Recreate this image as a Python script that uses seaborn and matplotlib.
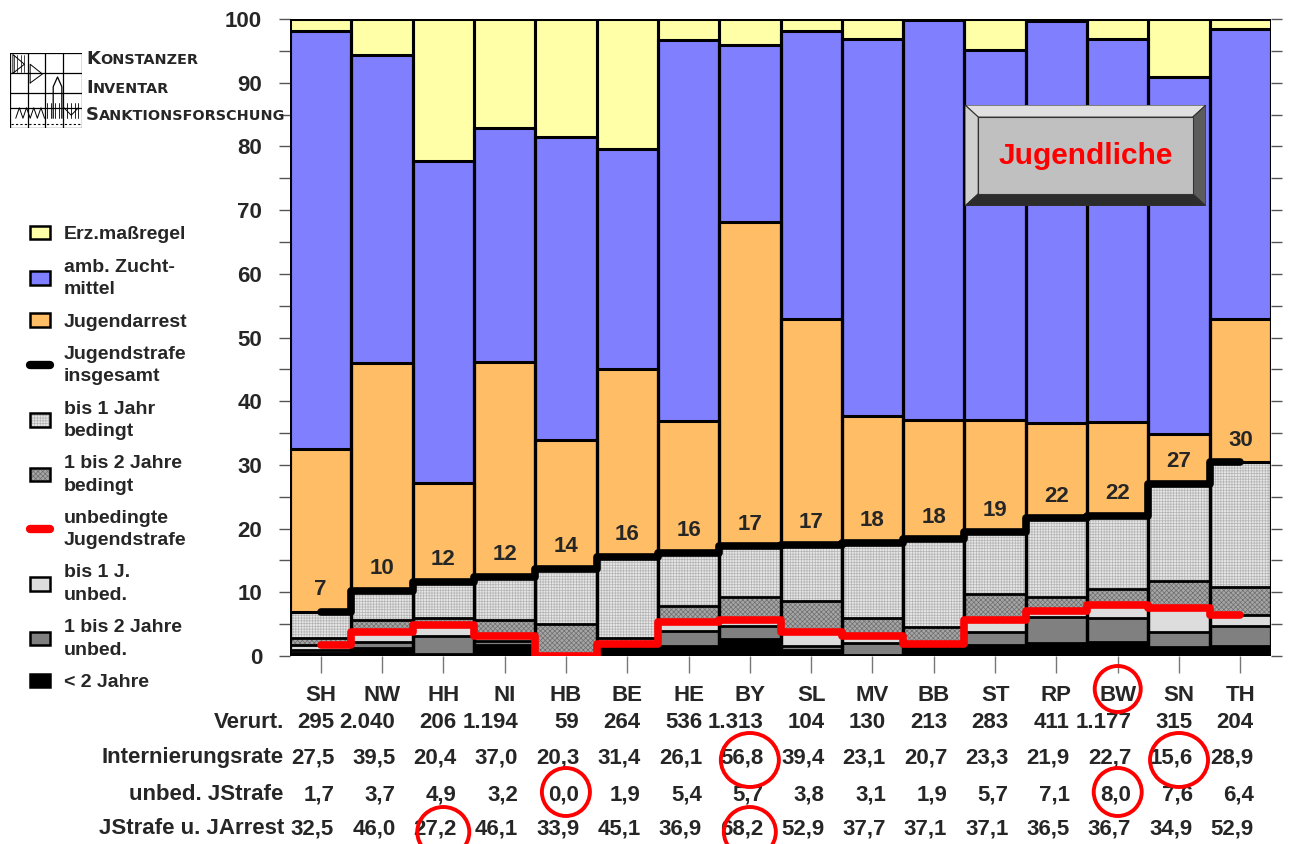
import numpy as np
import pandas as pd
import matplotlib
matplotlib.use("Agg")
import matplotlib.pyplot as plt
import matplotlib.transforms as mtransforms
from matplotlib.patches import Ellipse, Polygon, Rectangle, Patch
from matplotlib.lines import Line2D
from matplotlib.offsetbox import TextArea, HPacker, AnchoredOffsetbox
import seaborn as sns

# ---------------------------------------------------------------- data
laender = ["SH", "NW", "HH", "NI", "HB", "BE", "HE", "BY",
           "SL", "MV", "BB", "ST", "RP", "BW", "SN", "TH"]
verurteilte = ["295", "2.040", "206", "1.194", "59", "264", "536", "1.313",
               "104", "130", "213", "283", "411", "1.177", "315", "204"]
internierungsrate = [27.5, 39.5, 20.4, 37.0, 20.3, 31.4, 26.1, 56.8,
                     39.4, 23.1, 20.7, 23.3, 21.9, 22.7, 15.6, 28.9]
unbed_jstrafe = [1.7, 3.7, 4.9, 3.2, 0.0, 1.9, 5.4, 5.7,
                 3.8, 3.1, 1.9, 5.7, 7.1, 8.0, 7.6, 6.4]
jstrafe_u_jarrest = [32.5, 46.0, 27.2, 46.1, 33.9, 45.1, 36.9, 68.2,
                     52.9, 37.7, 37.1, 37.1, 36.5, 36.7, 34.9, 52.9]
jstrafe_gesamt = [6.9, 10.2, 11.6, 12.4, 13.7, 15.6, 16.2, 17.2,
                  17.4, 17.7, 18.3, 19.4, 21.6, 22.0, 27.0, 30.4]
erz_massregel = [1.9, 5.7, 22.3, 17.1, 18.5, 20.4, 3.3, 4.1,
                 1.9, 3.1, 0.1, 4.9, 0.3, 3.1, 9.1, 1.6]
# components of the Jugendstrafe
ueber_2_jahre = [0.5, 1.2, 0.3, 1.8, 0.0, 1.4, 1.6, 2.6,
                 1.0, 0.2, 1.3, 1.8, 2.0, 2.2, 1.4, 1.5]
unbed_1_bis_2 = [0.5, 1.0, 2.9, 0.6, 0.0, 0.0, 2.4, 2.1,
                 0.5, 1.9, 0.2, 2.0, 4.1, 3.8, 2.4, 3.2]
bed_1_bis_2 = [1.2, 2.0, 1.1, 2.5, 5.0, 0.9, 2.4, 3.6,
               4.8, 2.8, 2.7, 4.0, 2.1, 2.5, 4.2, 4.4]

markiert_label = ["BW"]
markiert_intern = ["BY", "SN"]
markiert_unbed = ["HB", "BW"]
markiert_jsja = ["HH", "BY"]

# ---------------------------------------------------------------- frame
df = pd.DataFrame({"land": laender})
df["top_erz"] = 100.0
df["top_amb"] = 100.0 - np.array(erz_massregel)
df["top_arrest"] = jstrafe_u_jarrest
df["top_bed_bis1"] = jstrafe_gesamt
df["top_bed_1_2"] = np.array(unbed_jstrafe) + np.array(bed_1_bis_2)
df["top_unbed_bis1"] = unbed_jstrafe
df["top_unbed_1_2"] = np.array(ueber_2_jahre) + np.array(unbed_1_bis_2)
df["top_ueber2"] = ueber_2_jahre

sns.set_style("white")
plt.rcParams["font.family"] = ["Liberation Sans", "DejaVu Sans"]
plt.rcParams["font.weight"] = "bold"
plt.rcParams["hatch.linewidth"] = 0.5

FS = 16

W, H = 1290, 844
fig = plt.figure(figsize=(W / 100, H / 100), dpi=100)
ax = fig.add_axes([290 / W, 1 - 656 / H, (1271 - 290) / W, (656 - 19) / H])

# layer: column, face colour, hatch, hatch colour, outline width
layers = [
    ("top_erz", "#FFFFA8", None, None, 2.2),
    ("top_amb", "#8080FF", None, None, 2.2),
    ("top_arrest", "#FFBE66", None, None, 2.2),
    ("top_bed_bis1", "#E6E6E6", "++++++", "#B4B4B4", 2.2),
    ("top_bed_1_2", "#A6A6A6", "xxxxxxx", "#6E6E6E", 2.0),
    ("top_unbed_bis1", "#DDDDDD", None, None, 2.0),
    ("top_unbed_1_2", "#808080", None, None, 2.0),
    ("top_ueber2", "#000000", None, None, 2.0),
]

# filled, stacked columns (cumulative tops drawn from the top layer down)
for col, face, hatch, hcol, _ in layers:
    n0 = len(ax.patches)
    sns.barplot(data=df, x="land", y=col, order=laender, color=face,
                saturation=1, width=1.0, errorbar=None, ax=ax)
    for p in ax.patches[n0:]:
        p.set_facecolor(face)
        p.set_linewidth(0)
        if hatch:
            p.set_edgecolor(hcol)
            p.set_hatch(hatch)
        else:
            p.set_edgecolor("none")

# black outlines of every segment
for col, face, hatch, hcol, lw in layers:
    n0 = len(ax.patches)
    sns.barplot(data=df, x="land", y=col, order=laender, color="black",
                fill=False, saturation=1, width=1.0, errorbar=None, ax=ax)
    for p in ax.patches[n0:]:
        p.set_facecolor("none")
        p.set_edgecolor("black")
        p.set_linewidth(lw)
        p.set_zorder(2)

xs = np.arange(len(laender))
sns.lineplot(x=xs, y=unbed_jstrafe, drawstyle="steps-mid", color="#FF0000",
             linewidth=5.5, solid_capstyle="round", solid_joinstyle="round",
             sort=False, estimator=None, legend=False, ax=ax, zorder=5)
sns.lineplot(x=xs, y=jstrafe_gesamt, drawstyle="steps-mid", color="black",
             linewidth=5.5, solid_capstyle="round", solid_joinstyle="round",
             sort=False, estimator=None, legend=False, ax=ax, zorder=6)

for i, v in enumerate(jstrafe_gesamt):
    ax.text(i, v + 3.5, f"{v:.0f}", ha="center", va="center",
            fontsize=FS, fontweight="bold", zorder=7)

# ---------------------------------------------------------------- axes
ax.set_xlim(-0.5, len(laender) - 0.5)
ax.set_ylim(0, 100)
ax.set_xlabel("")
ax.set_ylabel("")
for s in ax.spines.values():
    s.set_visible(False)
ax.set_yticks(np.arange(0, 101, 10))
ax.set_yticks(np.arange(5, 100, 10), minor=True)
ax.tick_params(axis="y", which="both", direction="out", length=8, width=1,
               color="#555555", left=True, right=True, labelsize=FS, pad=12)
ax.set_xticks(xs)
ax.set_xticklabels(laender)
ax.tick_params(axis="x", direction="out", length=12, width=1,
               color="#777777", bottom=True, labelsize=FS, pad=9)
for lab in ax.get_yticklabels() + ax.get_xticklabels():
    lab.set_fontweight("bold")

# ---------------------------------------------------------------- table
tr = mtransforms.blended_transform_factory(ax.transData, fig.transFigure)
rows = [
    ("Verurt.", verurteilte, 723),
    ("Internierungsrate", [f"{v:.1f}".replace(".", ",") for v in internierungsrate], 758),
    ("unbed. JStrafe", [f"{v:.1f}".replace(".", ",") for v in unbed_jstrafe], 795),
    ("JStrafe u. JArrest", [f"{v:.1f}".replace(".", ",") for v in jstrafe_u_jarrest], 829),
]
for name, vals, ypx in rows:
    y = 1 - ypx / H
    ax.text(-0.6, y, name, transform=tr, ha="right", va="center",
            fontsize=FS, fontweight="bold", clip_on=False)
    for i, s in enumerate(vals):
        ax.text(i + 0.22, y, s, transform=tr, ha="right", va="center",
                fontsize=FS, fontweight="bold", clip_on=False)


def kreis(land, ypx, wpx, hpx):
    i = laender.index(land)
    e = Ellipse((i, 1 - ypx / H), wpx / 61.3, hpx / H, transform=tr,
                facecolor="none", edgecolor="#FF0000", linewidth=2.8,
                clip_on=False, zorder=10)
    ax.add_artist(e)


for l in markiert_label:
    kreis(l, 689, 46, 46)
for l in markiert_intern:
    kreis(l, 760, 58, 54)
for l in markiert_unbed:
    kreis(l, 792, 48, 48)
for l in markiert_jsja:
    kreis(l, 832, 52, 50)

# ---------------------------------------------------------------- legend
lw_box = 1.8
handles = [
    Patch(facecolor="#FFFFA8", edgecolor="black", linewidth=lw_box),
    Patch(facecolor="#8080FF", edgecolor="black", linewidth=lw_box),
    Patch(facecolor="#FFBE66", edgecolor="black", linewidth=lw_box),
    Line2D([0], [0], color="black", linewidth=6, solid_capstyle="round"),
    (Patch(facecolor="#E6E6E6", edgecolor="#B4B4B4", hatch="++++++", linewidth=0),
     Patch(facecolor="none", edgecolor="black", linewidth=lw_box)),
    (Patch(facecolor="#A6A6A6", edgecolor="#6E6E6E", hatch="xxxxxxx", linewidth=0),
     Patch(facecolor="none", edgecolor="black", linewidth=lw_box)),
    Line2D([0], [0], color="#FF0000", linewidth=6, solid_capstyle="round"),
    Patch(facecolor="#DDDDDD", edgecolor="black", linewidth=lw_box),
    Patch(facecolor="#808080", edgecolor="black", linewidth=lw_box),
    Patch(facecolor="#000000", edgecolor="black", linewidth=lw_box),
]
labels = ["Erz.maßregel", "amb. Zucht-\nmittel", "Jugendarrest",
          "Jugendstrafe\ninsgesamt", "bis 1 Jahr\nbedingt",
          "1 bis 2 Jahre\nbedingt", "unbedingte\nJugendstrafe",
          "bis 1 J.\nunbed.", "1 bis 2 Jahre\nunbed.", "< 2 Jahre"]
leg = fig.legend(handles, labels, loc="upper left",
                 bbox_to_anchor=(22 / W, 1 - 218 / H), frameon=False,
                 prop={"size": 14, "weight": "bold"}, handlelength=1.05,
                 handleheight=0.7, handletextpad=0.7, labelspacing=0.78,
                 borderaxespad=0)
for t in leg.get_texts():
    t.set_linespacing(1.42)

# ---------------------------------------------------------------- title box
bx = fig.add_axes([965 / W, 1 - 206 / H, 241 / W, 101 / H])
bx.set_xlim(0, 1)
bx.set_ylim(0, 1)
bx.axis("off")
dx, dy = 0.055, 0.12
bx.add_patch(Polygon([(0, 1), (1, 1), (1 - dx, 1 - dy), (dx, 1 - dy)], closed=True,
                     facecolor="#E0E0E0", edgecolor="#333333", linewidth=0.8))
bx.add_patch(Polygon([(0, 0), (0, 1), (dx, 1 - dy), (dx, dy)], closed=True,
                     facecolor="#D0D0D0", edgecolor="#333333", linewidth=0.8))
bx.add_patch(Polygon([(1, 0), (1, 1), (1 - dx, 1 - dy), (1 - dx, dy)], closed=True,
                     facecolor="#5C5C5C", edgecolor="#333333", linewidth=0.8))
bx.add_patch(Polygon([(0, 0), (1, 0), (1 - dx, dy), (dx, dy)], closed=True,
                     facecolor="#2C2C2C", edgecolor="#333333", linewidth=0.8))
bx.add_patch(Rectangle((dx, dy), 1 - 2 * dx, 1 - 2 * dy, facecolor="#C0C0C0",
                       edgecolor="#333333", linewidth=0.8))
bx.text(0.5, 0.5, "Jugendliche", ha="center", va="center", color="#FF0000",
        fontsize=21.5, fontweight="bold")

# ---------------------------------------------------------------- logo
lg = fig.add_axes([10 / W, 1 - 128 / H, 72 / W, 75 / H])
lg.set_xlim(0, 1)
lg.set_ylim(0, 1)
lg.axis("off")
lk = dict(color="black", linewidth=0.9)
lg.plot([0, 1, 1, 0, 0], [0, 0, 1, 1, 0], **lk)
for xv in (0.25, 0.49, 0.74):
    lg.plot([xv, xv], [0, 1], **lk)
for yv in (0.27, 0.47, 0.73):
    lg.plot([0, 1], [yv, yv], **lk)
lg.plot([0.6, 0.6, 0.66, 0.72, 0.72], [0.13, 0.55, 0.68, 0.55, 0.13], **lk)
for xv in np.linspace(0.52, 0.95, 9):
    lg.plot([xv, xv], [0.13, 0.33], color="black", linewidth=0.6)
zx = np.linspace(0.08, 0.48, 9)
lg.plot(zx, [0.27 if k % 2 else 0.13 for k in range(9)], color="black", linewidth=0.7)
lg.plot([0.75, 0.85, 0.95], [0.27, 0.17, 0.27], color="black", linewidth=0.7)
lg.plot([0.04, 0.04, 0.2, 0.04], [0.73, 0.98, 0.85, 0.73], color="black", linewidth=0.7)
lg.plot([0.28, 0.28, 0.45, 0.28], [0.6, 0.85, 0.72, 0.6], color="black", linewidth=0.7)
for xv in np.linspace(0.05, 0.2, 4):
    lg.plot([xv, xv], [0.75, 0.98], color="black", linewidth=0.5)
lg.plot([0.02, 0.98], [0.06, 0.06], color="black", linewidth=0.8, linestyle=(0, (2, 2)))

big = {"size": 13, "family": "DejaVu Sans", "weight": "bold"}
small = {"size": 10.4, "family": "DejaVu Sans", "weight": "bold"}
for word, ypx in (("KONSTANZER", 68), ("INVENTAR", 97), ("SANKTIONSFORSCHUNG", 124)):
    box = HPacker(children=[TextArea(word[0], textprops=big),
                            TextArea(word[1:], textprops=small)],
                  align="baseline", pad=0, sep=0)
    ab = AnchoredOffsetbox(loc="lower left", child=box, pad=0, borderpad=0,
                           frameon=False, bbox_to_anchor=(86 / W, 1 - ypx / H),
                           bbox_transform=fig.transFigure)
    fig.add_artist(ab)

fig.savefig("out.png", dpi=100, facecolor="white")
